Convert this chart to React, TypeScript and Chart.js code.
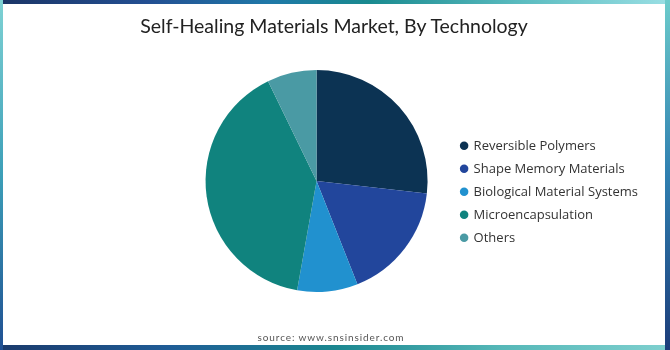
import React, { useEffect, useRef } from "react";
import { Chart, registerables } from "chart.js";

Chart.register(...registerables);

const categories = [
  "Reversible Polymers",
  "Shape Memory Materials",
  "Biological Material Systems",
  "Microencapsulation",
  "Others",
];
const shares = [26.8, 17.2, 8.8, 40.0, 7.2];
const sliceColors = ["#0c3353", "#22469c", "#2191cf", "#10837e", "#4a9aa4"];
const titleText = "Self-Healing Materials Market, By Technology";
const sourceText = "source: www.snsinsider.com";

export default function App() {
  const canvasRef = useRef<HTMLCanvasElement | null>(null);

  useEffect(() => {
    const canvas = canvasRef.current;
    if (!canvas) return;
    const chart = new Chart(canvas, {
      type: "pie",
      data: {
        labels: categories,
        datasets: [
          {
            data: shares,
            backgroundColor: sliceColors,
            borderWidth: 0,
          },
        ],
      },
      options: {
        animation: false,
        responsive: false,
        maintainAspectRatio: false,
        layout: { padding: { top: 70, bottom: 58, left: 182, right: 22 } },
        plugins: {
          tooltip: { enabled: false },
          title: { display: false },
          legend: {
            position: "right",
            align: "center",
            title: {
              display: true,
              text: "",
              padding: 0,
              font: { size: 18, lineHeight: 1.2 },
            },
            labels: {
              usePointStyle: true,
              pointStyle: "circle",
              boxWidth: 6,
              boxHeight: 6,
              padding: 10,
              color: "#333333",
              font: { family: "'Open Sans', sans-serif", size: 13 },
            },
          },
        },
      },
    });
    return () => chart.destroy();
  }, []);

  const frame: React.CSSProperties = {
    position: "fixed",
    left: 0,
    top: 0,
    width: 670,
    height: 350,
    overflow: "hidden",
    background: "#ffffff",
  };

  return (
    <div style={frame}>
      <div
        style={{
          position: "absolute",
          left: 0,
          top: 0,
          width: 670,
          height: 4,
          background:
            "linear-gradient(to right, #1b3566 0%, #234f92 22%, #1f78a8 40%, #198a8f 55%, #5bbcc0 78%, #9adfe4 100%)",
        }}
      />
      <div
        style={{
          position: "absolute",
          left: 0,
          top: 345,
          width: 670,
          height: 5,
          background:
            "linear-gradient(to right, #1a3a6c 0%, #1f5c96 25%, #1b8790 50%, #56b8b8 75%, #7fd0cf 100%)",
        }}
      />
      <div
        style={{
          position: "absolute",
          left: 0,
          top: 0,
          width: 3,
          height: 350,
          background: "linear-gradient(to bottom, #7fd2d4 0%, #3c9fb8 50%, #1f4f92 100%)",
        }}
      />
      <div
        style={{
          position: "absolute",
          left: 665,
          top: 0,
          width: 5,
          height: 350,
          background: "linear-gradient(to bottom, #6ccbcb 0%, #2f7fb0 50%, #1c3d7a 100%)",
        }}
      />
      <div
        style={{
          position: "absolute",
          left: 3,
          top: 4,
          width: 662,
          height: 341,
          background: "#ffffff",
          borderRadius: 3,
        }}
      />
      <canvas
        ref={canvasRef}
        width={670}
        height={350}
        style={{ position: "absolute", left: 0, top: 0, width: 670, height: 350 }}
      />
      <div
        style={{
          position: "absolute",
          left: 0,
          top: 13,
          width: 668,
          textAlign: "center",
          fontFamily: "'Lato', sans-serif",
          fontSize: 19.5,
          lineHeight: "26px",
          color: "#222222",
          whiteSpace: "nowrap",
        }}
      >
        {titleText}
      </div>
      <div
        style={{
          position: "absolute",
          left: 0,
          top: 330,
          width: 662,
          textAlign: "center",
          fontFamily: "'Lato', sans-serif",
          fontSize: 10,
          lineHeight: "14px",
          letterSpacing: "0.9px",
          color: "#555555",
          whiteSpace: "nowrap",
        }}
      >
        {sourceText}
      </div>
    </div>
  );
}
